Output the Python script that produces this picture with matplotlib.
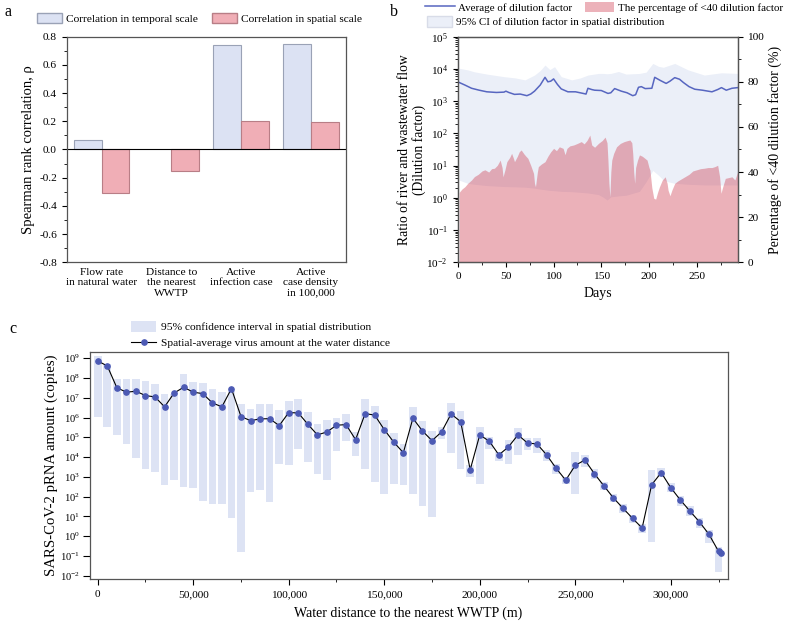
import matplotlib
matplotlib.use("Agg")
import matplotlib.pyplot as plt
import numpy as np
from matplotlib.patches import Patch
from matplotlib.lines import Line2D
from matplotlib.ticker import MultipleLocator, FuncFormatter, LogLocator, LogFormatterSciNotation, NullLocator

plt.rcParams['font.family'] = ['Liberation Serif', 'DejaVu Serif']
plt.rcParams['mathtext.fontset'] = 'custom'
plt.rcParams['mathtext.rm'] = 'Liberation Serif'
plt.rcParams['mathtext.it'] = 'Liberation Serif:italic'
plt.rcParams['axes.edgecolor'] = '#555555'
plt.rcParams['axes.linewidth'] = 0.9

# ---- panel a : Spearman correlation
categories = ["Flow rate\nin natural water", "Distance to\nthe nearest\nWWTP",
              "Active\ninfection case", "Active\ncase density\nin 100,000"]
corr_temporal = [0.07, np.nan, 0.74, 0.745]
corr_spatial = [-0.305, -0.15, 0.205, 0.195]

# ---- panel b : dilution factor over days
mean_days = [1, 7, 14, 22, 30, 40, 48, 50, 53, 59, 65, 72, 76, 80, 86, 91, 94, 97, 100, 104,
             108, 115, 123, 131, 134, 136, 140, 143, 150, 157, 160, 164, 171, 177, 183, 186,
             189, 192, 196, 203, 206, 212, 218, 222, 227, 232, 236, 242, 248, 256, 266, 272,
             276, 281, 287, 293]
mean_log10 = [3.58, 3.50, 3.40, 3.34, 3.29, 3.27, 3.28, 3.31, 3.27, 3.21, 3.22, 3.17, 3.22, 3.31,
              3.50, 3.74, 3.60, 3.62, 3.69, 3.52, 3.38, 3.29, 3.29, 3.24, 3.22, 3.40, 3.36, 3.34,
              3.33, 3.24, 3.26, 3.39, 3.31, 3.26, 3.17, 3.20, 3.43, 3.45, 3.39, 3.40, 3.74, 3.64,
              3.55, 3.62, 3.73, 3.68, 3.58, 3.45, 3.37, 3.34, 3.29, 3.36, 3.42, 3.34, 3.40, 3.42]

ci_days = [1, 10, 17, 30, 48, 60, 70, 80, 86, 91, 96, 101, 108, 119, 128, 136, 147, 152, 156,
           160, 168, 176, 190, 197, 204, 210, 215, 220, 227, 241, 258, 276, 293]
ci_high_log10 = [4.02, 3.97, 3.91, 3.84, 3.76, 3.72, 3.66, 3.81, 3.95, 4.12, 3.98, 4.07, 3.76,
                 3.66, 3.72, 3.81, 3.86, 3.86, 3.85, 3.86, 3.92, 3.84, 3.86, 3.90, 4.17, 4.08,
                 4.05, 4.10, 4.17, 3.97, 3.81, 3.88, 3.86]
ci_low_log10 = [0.55, 0.45, 0.42, 0.38, 0.35, 0.34, 0.33, 0.30, 0.27, 0.25, 0.23, 0.22, 0.20,
                0.19, 0.17, 0.15, 0.10, 0.02, -0.07, 0.03, 0.06, 0.08, 0.20, 0.50, 0.85, 0.70,
                0.55, 0.50, 0.45, 0.42, 0.40, 0.40, 0.40]

pct_days = [1, 4, 7, 10, 14, 17, 21, 25, 28, 32, 35, 38, 41, 44, 46, 47, 49, 51, 54, 56, 58,
            59, 62, 64, 66, 69, 71, 73, 76, 79, 80, 81, 83, 84, 87, 91, 94, 97, 100, 103, 106,
            110, 112, 114, 117, 121, 125, 129, 132, 135, 138, 140, 143, 147, 151, 154, 156, 157,
            158, 159, 160, 161, 163, 166, 170, 174, 178, 180, 182, 183, 184, 185, 186, 188, 190,
            193, 196, 198, 200, 201, 203, 205, 207, 209, 211, 214, 217, 219, 220, 222, 224, 227,
            230, 234, 238, 242, 246, 250, 254, 258, 262, 266, 269, 272, 274, 275.5, 277, 280,
            283, 287, 290, 293]
pct_below40 = [31, 32.5, 33.5, 35, 36.5, 38, 39, 40.5, 41, 40, 41.5, 41.7, 43, 45.3, 42, 37.9,
               41, 44.6, 46.5, 48.3, 46, 44.6, 47, 49, 49.8, 48, 47, 46.1, 43, 39.4, 35, 33.5, 40,
               42.4, 43.5, 44.6, 47, 49, 50.5, 49.5, 51.2, 50.5, 47.7, 50.5, 51.6, 52, 52.7, 53.5,
               52.5, 54, 56.4, 52, 51, 52.7, 54, 55.5, 53, 45, 35, 29, 40, 45.3, 48.3, 51.2, 52.7,
               53.5, 54, 54.2, 53, 48, 40, 35, 42, 45.3, 47.6, 47, 46, 45.3, 42, 40.9, 33, 28.4,
               28, 31, 33.5, 36.5, 37.9, 35, 32, 29.5, 32, 35, 36, 37, 38, 39, 40.5, 41, 41.5, 41.7,
               42, 42, 42.4, 43, 38, 30.6, 33, 37.2, 37.5, 37.9, 36.5, 40.2]

# ---- panel c : virus amount vs water distance
distance = list(range(0, 330000, 5000))
virus_mean_log10 = [8.86, 8.61, 7.51, 7.28, 7.33, 7.11, 7.04, 6.54, 7.24, 7.53, 7.28, 7.21, 6.74,
                    6.54, 7.46, 6.05, 5.84, 5.93, 5.94, 5.59, 6.25, 6.23, 5.66, 5.12, 5.27, 5.61,
                    5.64, 4.88, 6.20, 6.12, 5.39, 4.75, 4.22, 5.96, 5.32, 4.83, 5.27, 6.18, 5.79,
                    3.36, 5.12, 4.80, 4.11, 4.51, 5.12, 4.71, 4.66, 4.11, 3.43, 2.83, 3.58, 3.85,
                    3.16, 2.54, 1.93, 1.41, 0.90, 0.41, 2.60, 3.21, 2.45, 1.83, 1.27, 0.72, 0.09,
                    -0.77]
extra_distance = [326500]
extra_mean_log10 = [-0.85]
virus_low_log10 = [6.01, 5.51, 5.12, 4.68, 3.97, 3.38, 3.23, 2.60, 2.83, 2.50, 2.45, 1.78, 1.64,
                   1.63, 0.90, -0.82, 2.25, 2.32, 1.74, 3.65, 3.62, 4.41, 3.74, 3.13, 2.84, 4.32,
                   4.80, 4.06, 3.41, 2.72, 2.13, 2.64, 2.60, 2.15, 1.53, 0.98, 4.92, 4.21, 3.41,
                   3.00, 2.65, 4.43, 3.82, 3.65, 4.11, 4.37, 4.21, 3.79, 3.16, 2.62, 2.11, 3.52,
                   2.89, 2.31, 1.71, 1.19, 0.68, 0.17, -0.31, 3.01, 2.21, 1.54, 1.04, 0.43, -0.36,
                   -1.80]
virus_high_log10 = [9.12, 8.70, 7.94, 7.94, 7.94, 7.85, 7.70, 7.19, 7.21, 8.21, 7.80, 7.73, 7.43,
                    7.31, 7.35, 6.70, 6.43, 6.70, 6.67, 6.38, 6.84, 6.94, 6.28, 5.68, 5.88, 5.98,
                    6.20, 5.29, 6.94, 6.59, 5.86, 5.22, 4.65, 6.52, 5.81, 5.31, 5.51, 6.74, 6.34,
                    3.60, 5.52, 5.00, 4.27, 4.88, 5.47, 4.95, 4.97, 4.36, 3.65, 3.01, 4.27, 4.11,
                    3.40, 2.76, 2.13, 1.61, 1.08, 0.61, 3.35, 3.43, 2.67, 2.05, 1.51, 0.93, 0.33,
                    -0.53]

c_temporal = '#DCE2F3'
c_spatial = '#F0AEB6'
c_ci = '#EBEFF8'
c_line = '#5766C0'

fig = plt.figure(figsize=(7.9, 6.22), dpi=100)
fs_tick = 8.2
fs_leg = 8.2

# ---------------- a
ax_a = fig.add_axes([0.0844, 0.5783, 0.3532, 0.3627])
x = np.arange(len(categories))
ax_a.bar(x - 0.2, corr_temporal, 0.4, color=c_temporal, edgecolor='#9AA2B6', linewidth=0.8)
ax_a.bar(x + 0.2, corr_spatial, 0.4, color=c_spatial, edgecolor='#B87E86', linewidth=0.8)
ax_a.axhline(0, color='black', linewidth=0.8)
ax_a.set_xlim(-0.5, 3.5)
ax_a.set_ylim(-0.8, 0.8)
ax_a.set_xticks(x)
ax_a.set_xticklabels(categories, fontsize=fs_tick)
ax_a.tick_params(axis='x', length=0, pad=4)
ax_a.yaxis.set_major_locator(MultipleLocator(0.2))
ax_a.yaxis.set_minor_locator(MultipleLocator(0.1))
ax_a.yaxis.set_major_formatter(FuncFormatter(lambda v, p: '%.1f' % v))
ax_a.tick_params(axis='y', labelsize=fs_tick, direction='out', length=3.5, width=0.8)
ax_a.tick_params(axis='y', which='minor', length=2, width=0.6)
ax_a.set_ylabel('Spearman rank correlation, ρ', fontsize=10.5, labelpad=3)
leg_a = [Patch(facecolor=c_temporal, edgecolor='#9AA2B6', label='Correlation in temporal scale'),
         Patch(facecolor=c_spatial, edgecolor='#B87E86', label='Correlation in spatial scale')]
fig.legend(handles=leg_a, loc='center left', bbox_to_anchor=(0.047, 0.9706), ncol=2,
           frameon=False, fontsize=fs_leg, handlelength=2.2, handleheight=1.05,
           handletextpad=0.35, columnspacing=1.2, borderpad=0, borderaxespad=0)

# ---------------- b
ax_b = fig.add_axes([0.5794, 0.5783, 0.3544, 0.3627])
ax_b.set_yscale('log')
ax_b.fill_between(ci_days, 10 ** np.array(ci_low_log10), 10 ** np.array(ci_high_log10),
                  color=c_ci, linewidth=0)
ax_b.plot(mean_days, 10 ** np.array(mean_log10), color=c_line, linewidth=1.1)
ax_b.set_ylim(1e-2, 1e5)
ax_b.set_xlim(-0.5, 293)
ax_b.yaxis.set_major_locator(LogLocator(base=10, numticks=10))
ax_b.yaxis.set_major_formatter(LogFormatterSciNotation())
ax_b.xaxis.set_major_locator(MultipleLocator(50))
ax_b.xaxis.set_minor_locator(MultipleLocator(25))
ax_b.tick_params(labelsize=fs_tick, direction='out', length=3.5, width=0.8)
ax_b.tick_params(which='minor', length=2, width=0.6)
ax_b.set_xlabel('Days', fontsize=10, labelpad=4)
ax_b.set_ylabel('Ratio of river and wastewater flow\n(Dilution factor)', fontsize=9.8,
                labelpad=0.5, linespacing=1.1)

ax_b2 = ax_b.twinx()
ax_b2.fill_between(pct_days, 0, pct_below40, color='#CF3E52', alpha=0.4, linewidth=0)
ax_b2.set_ylim(0, 100)
ax_b2.yaxis.set_major_locator(MultipleLocator(20))
ax_b2.yaxis.set_minor_locator(MultipleLocator(10))
ax_b2.tick_params(labelsize=fs_tick, direction='out', length=3.5, width=0.8)
ax_b2.tick_params(which='minor', length=2, width=0.6)
ax_b2.set_ylabel('Percentage of <40 dilution factor (%)', fontsize=10, labelpad=3)

leg_b1 = [Line2D([], [], color=c_line, linewidth=1.1, label='Average of dilution factor'),
          Patch(facecolor='#ECB2BA', edgecolor='none', label='The percentage of <40 dilution factor')]
fig.legend(handles=leg_b1, loc='center left', bbox_to_anchor=(0.538, 0.988), ncol=2,
           frameon=False, fontsize=7.9, handlelength=2.7, handleheight=1.05,
           handletextpad=0.3, columnspacing=1.15, borderpad=0, borderaxespad=0)
leg_b2 = [Patch(facecolor=c_ci, edgecolor='#D8DCE8', label='95% CI of dilution factor in spatial distribution')]
fig.legend(handles=leg_b2, loc='center left', bbox_to_anchor=(0.5405, 0.965),
           frameon=False, fontsize=7.9, handlelength=2.3, handleheight=1.05,
           handletextpad=0.35, borderpad=0, borderaxespad=0)

# ---------------- c
ax_c = fig.add_axes([0.1133, 0.0691, 0.8076, 0.3655])
ax_c.set_yscale('log')
low = 10 ** np.array(virus_low_log10)
high = 10 ** np.array(virus_high_log10)
ax_c.bar(distance, high - low, bottom=low, width=4000, color='#DDE3F4', linewidth=0)
ax_c.plot(distance + extra_distance, 10 ** np.array(virus_mean_log10 + extra_mean_log10),
          color='black', linewidth=0.8, marker='o', markersize=3.8,
          markerfacecolor='#4C5AB4', markeredgecolor='#4C5AB4')
ax_c.set_xlim(-4300, 329700)
ax_c.set_ylim(10 ** -2.17, 10 ** 9.33)
ax_c.yaxis.set_major_locator(LogLocator(base=10, numticks=20))
ax_c.yaxis.set_minor_locator(NullLocator())
ax_c.yaxis.set_major_formatter(LogFormatterSciNotation())
ax_c.xaxis.set_major_locator(MultipleLocator(50000))
ax_c.xaxis.set_minor_locator(MultipleLocator(25000))
ax_c.xaxis.set_major_formatter(FuncFormatter(lambda v, p: '{:,}'.format(int(v))))
ax_c.tick_params(axis='x', labelsize=fs_tick, direction='out', length=4.5, width=0.8)
ax_c.tick_params(axis='y', labelsize=7.6, direction='out', length=5, width=0.8, pad=2)
ax_c.tick_params(which='minor', length=2.5, width=0.6)
ax_c.set_xlabel('Water distance to the nearest WWTP (m)', fontsize=10, labelpad=5)
ax_c.set_ylabel('SARS-CoV-2 pRNA amount (copies)', fontsize=10.6, labelpad=1)
leg_c = [Patch(facecolor='#DDE3F4', edgecolor='none', label='95% confidence interval in spatial distribution'),
         Line2D([], [], color='black', linewidth=0.8, marker='o', markersize=3.8,
                markerfacecolor='#4C5AB4', markeredgecolor='#4C5AB4',
                label='Spatial-average virus amount at the water distance')]
fig.legend(handles=leg_c, loc='upper left', bbox_to_anchor=(0.166, 0.484),
           frameon=False, fontsize=fs_leg, handlelength=2.2, handleheight=1.05,
           handletextpad=0.4, labelspacing=0.45, borderpad=0, borderaxespad=0)

fig.text(0.006, 0.975, 'a', fontsize=11.5)
fig.text(0.493, 0.975, 'b', fontsize=11.5)
fig.text(0.012, 0.465, 'c', fontsize=11.5)

fig.savefig('out.png', dpi=100)
